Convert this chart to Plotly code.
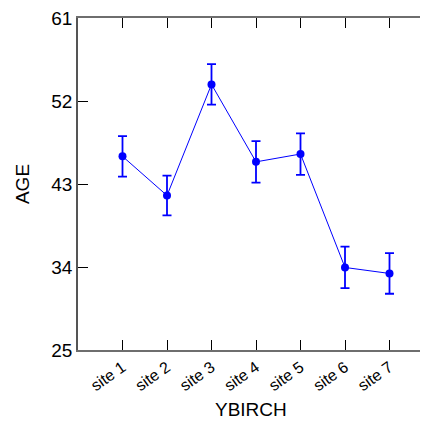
import plotly.graph_objects as go

sites = ["site 1", "site 2", "site 3", "site 4", "site 5", "site 6", "site 7"]
positions = [1, 2, 3, 4, 5, 6, 7]
age_mean = [46.0, 41.75, 53.8, 45.4, 46.25, 33.95, 33.3]
age_err = [2.2, 2.15, 2.2, 2.25, 2.25, 2.25, 2.2]
y_ticks = [25, 34, 43, 52, 61]

fig = go.Figure()
fig.add_trace(go.Scatter(
    x=positions, y=age_mean, mode="lines+markers",
    line=dict(color="#0000ff", width=1),
    marker=dict(color="#0000ff", size=8),
    error_y=dict(type="data", array=age_err, color="#0000ff", thickness=1.8, width=4.5),
    showlegend=False,
))

fig.update_layout(
    width=428, height=421,
    margin=dict(l=70, r=0, t=6, b=79),
    paper_bgcolor="white", plot_bgcolor="white",
    font=dict(family="Liberation Sans, Arial, sans-serif", color="black"),
)
fig.add_annotation(
    text="YBIRCH", xref="paper", yref="paper", x=0.486, y=0,
    xanchor="center", yanchor="top", yshift=-47, showarrow=False,
    font=dict(size=19, color="black"),
)
fig.update_xaxes(
    range=[0, 8], tickvals=positions, ticktext=sites, tickangle=-35,
    tickfont=dict(size=16), ticks="inside", ticklen=10, tickcolor="black", tickwidth=1,
    showline=True, linecolor="#6e6e6e", linewidth=2, mirror="ticks",
    showgrid=False, zeroline=False, ticklabeloverflow="allow",
)
fig.update_yaxes(
    range=[25, 61], tickvals=y_ticks, ticktext=[str(v) for v in y_ticks],
    tickfont=dict(size=19), ticks="inside", ticklen=10, tickcolor="black", tickwidth=1,
    showline=True, linecolor="#555555", linewidth=1.5, mirror="ticks",
    showgrid=False, zeroline=False, ticklabeloverflow="allow",
    title=dict(text="AGE", font=dict(size=19), standoff=17),
)
fig.write_html("out.html")
